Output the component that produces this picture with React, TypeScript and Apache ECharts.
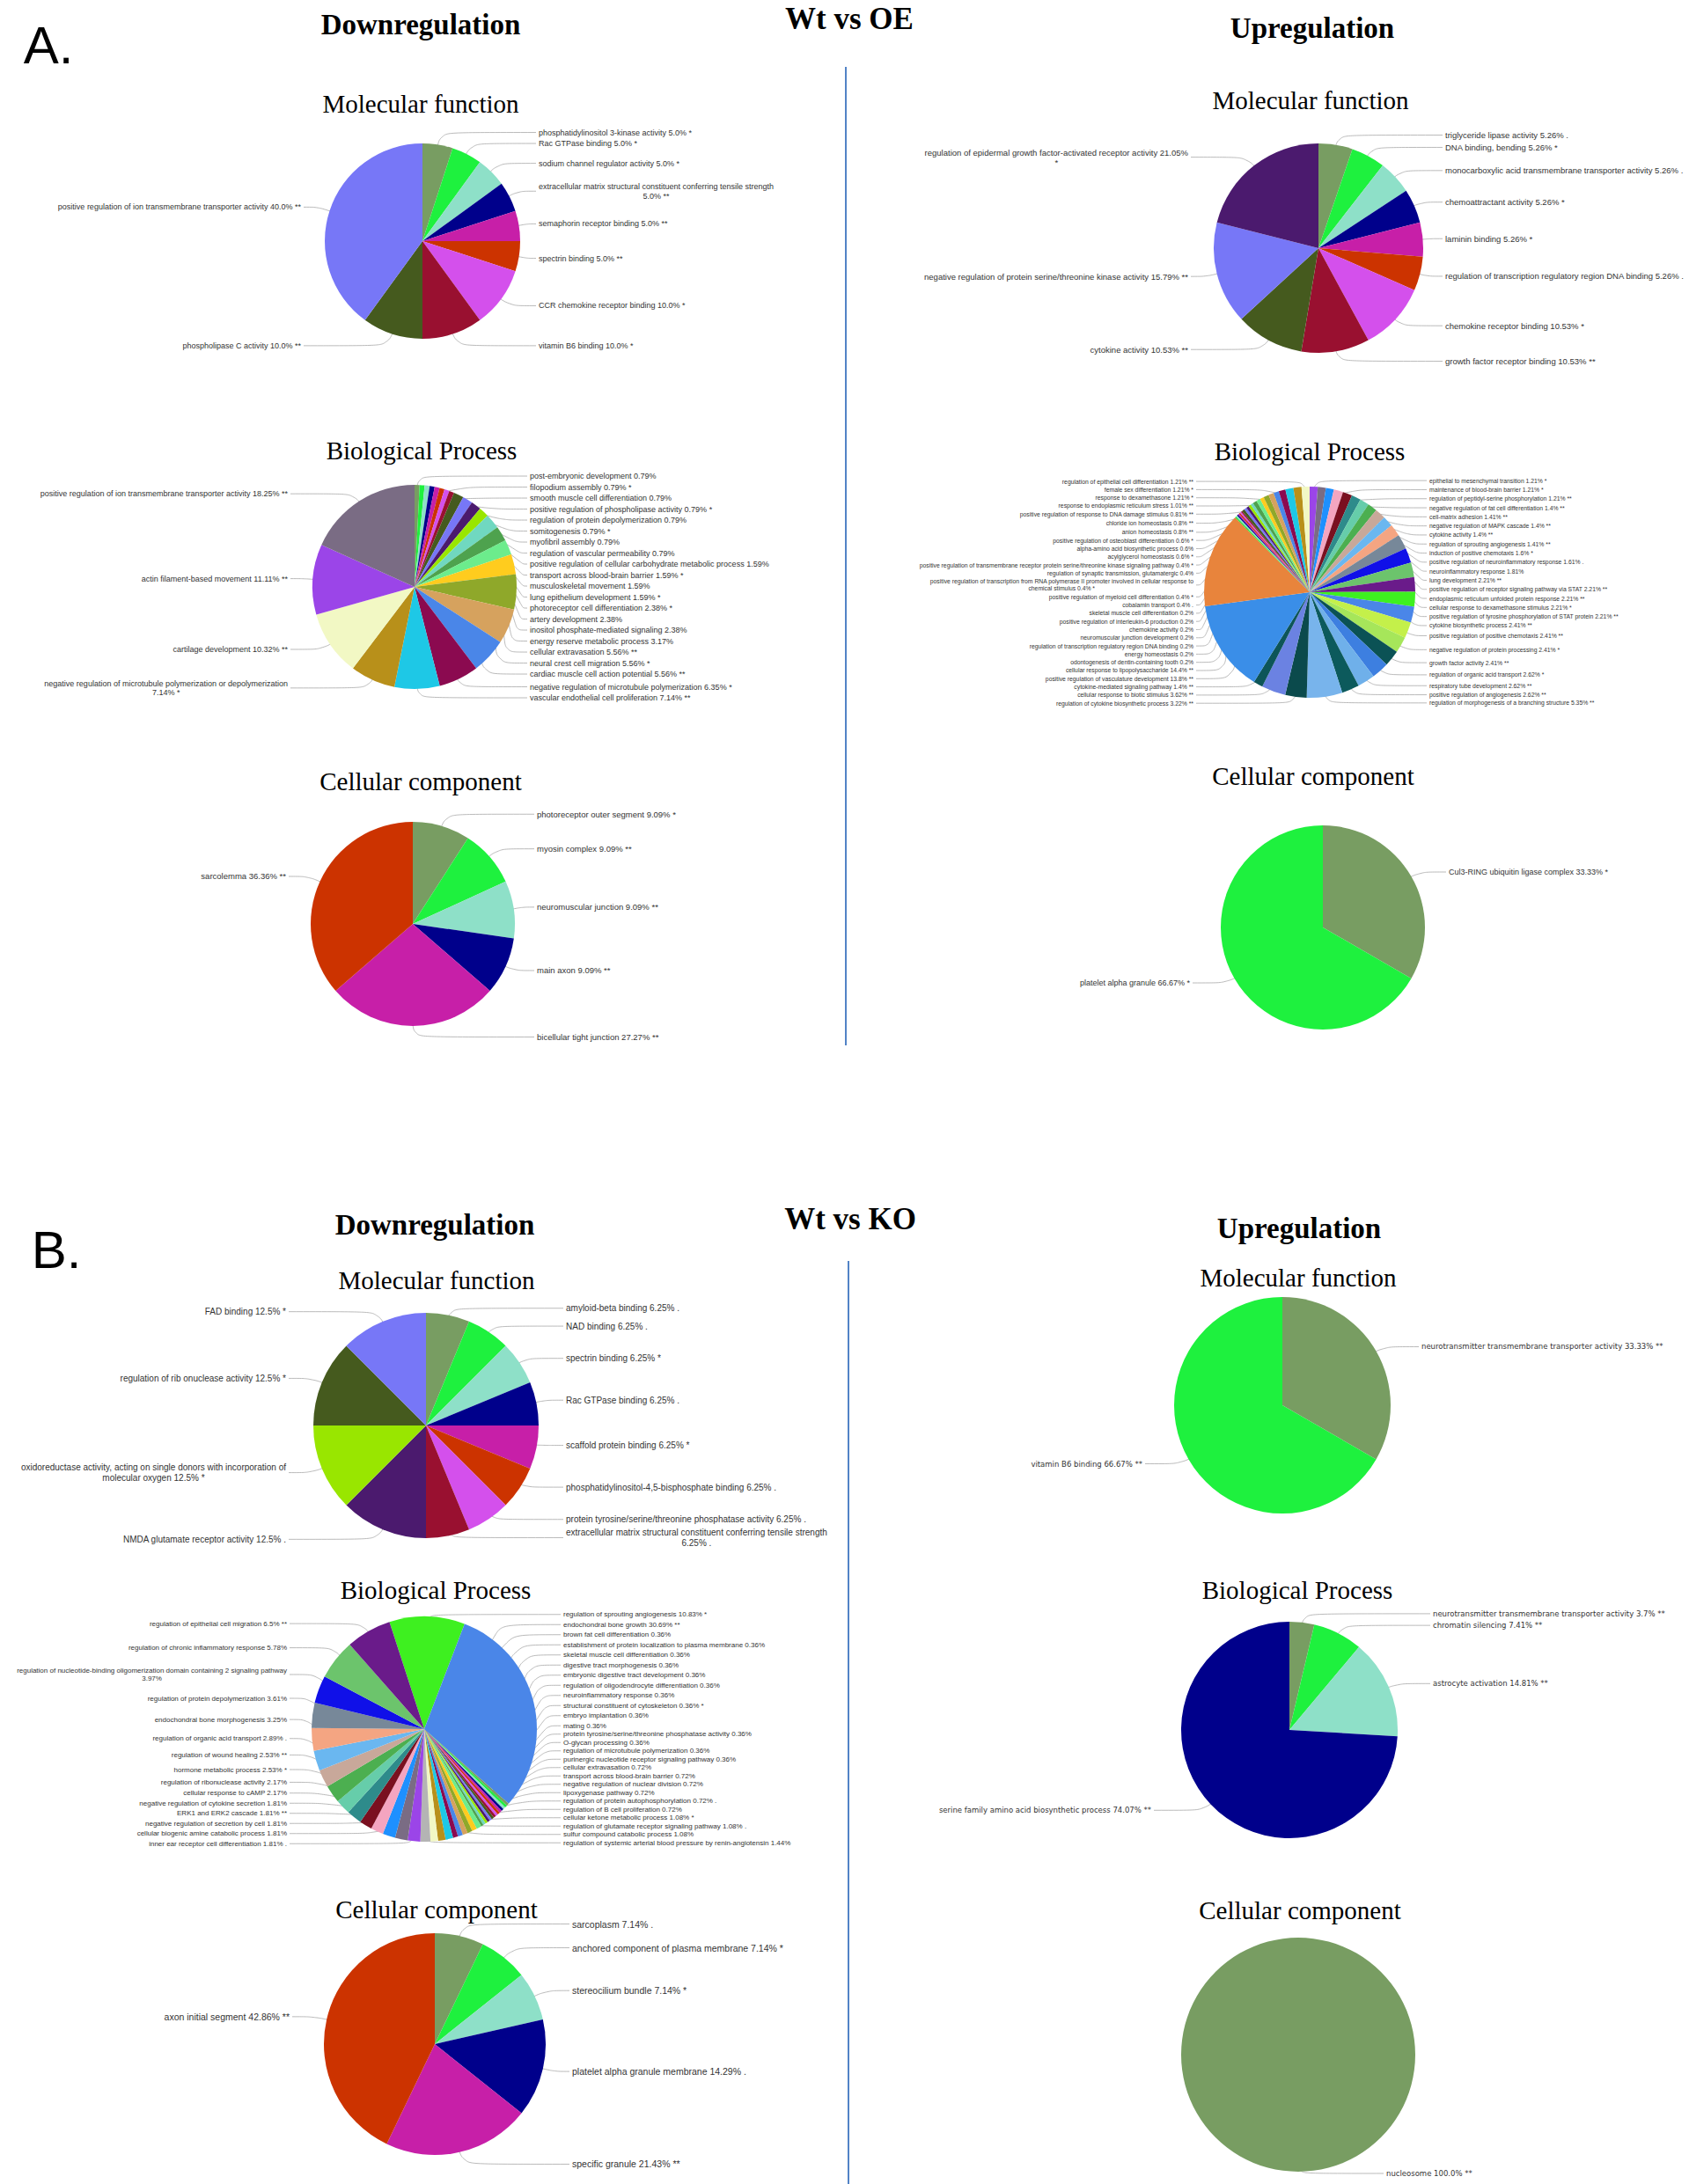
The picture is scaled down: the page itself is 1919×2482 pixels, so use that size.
import React, { useEffect, useRef } from 'react';
import * as echarts from 'echarts';

const PAGE_W = 1919;
const PAGE_H = 2482;

const PALETTE = [
  '#789d62', '#1ef13e', '#8ee0c8', '#00008b', '#c71fa8', '#cc3300', '#d450ec', '#991030',
  '#455a1e', '#7777f7', '#4b1a6e', '#99e600', '#70d8c0', '#4ea24e', '#6cec8c', '#ffcc1e',
  '#8fa82a', '#d6a25e', '#4a86e8', '#8b0a50', '#1ec8e6', '#b8901a', '#f2f8c4', '#9b45e8',
  '#7a6c84', '#1e90ff', '#f4a5c0', '#7a1020', '#2e8b8b', '#66cdaa', '#4caf50', '#c8a89a',
  '#6ab7f0', '#f4a582', '#778899', '#1010e8', '#6cc46c', '#6a1b8a', '#3ef020', '#4a86e8',
];
const EXTRA_BP = ['#c4f04a', '#a6e65a', '#0b5255', '#3d7fe0', '#6fb0ea', '#0c5a5c', '#78b4ec', '#0b4a4c', '#6b82e2', '#0d5558', '#3a8ee8', '#e8843c'];
const col = (ids: number[]) => ids.map((i) => PALETTE[i]);

// ---------------- A. Wt vs OE — Downregulation ----------------
const A_DOWN_MF_NAMES = [
  'phosphatidylinositol 3-kinase activity', 'Rac GTPase binding', 'sodium channel regulator activity',
  'extracellular matrix structural constituent conferring tensile strength\n', 'semaphorin receptor binding',
  'spectrin binding', 'CCR chemokine receptor binding', 'vitamin B6 binding', 'phospholipase C activity',
  'positive regulation of ion transmembrane transporter activity',
];
const A_DOWN_MF_VALUES = [5, 5, 5, 5, 5, 5, 10, 10, 10, 40];
const A_DOWN_MF_MARKS = ['*', '*', '*', '**', '**', '**', '*', '*', '**', '**'];
const A_DOWN_MF_COLORS = col([0, 1, 2, 3, 4, 5, 6, 7, 8, 9]);

const A_DOWN_BP_NAMES = [
  'post-embryonic development', 'filopodium assembly', 'smooth muscle cell differentiation',
  'positive regulation of phospholipase activity', 'regulation of protein depolymerization', 'somitogenesis',
  'myofibril assembly', 'regulation of vascular permeability',
  'positive regulation of cellular carbohydrate metabolic process', 'transport across blood-brain barrier',
  'musculoskeletal movement', 'lung epithelium development', 'photoreceptor cell differentiation',
  'artery development', 'inositol phosphate-mediated signaling', 'energy reserve metabolic process',
  'cellular extravasation', 'neural crest cell migration', 'cardiac muscle cell action potential',
  'negative regulation of microtubule polymerization', 'vascular endothelial cell proliferation',
  'negative regulation of microtubule polymerization or depolymerization\n', 'cartilage development',
  'actin filament-based movement', 'positive regulation of ion transmembrane transporter activity',
];
const A_DOWN_BP_VALUES = [0.79, 0.79, 0.79, 0.79, 0.79, 0.79, 0.79, 0.79, 1.59, 1.59, 1.59, 1.59, 2.38, 2.38, 2.38, 3.17, 5.56, 5.56, 5.56, 6.35, 7.14, 7.14, 10.32, 11.11, 18.25];
const A_DOWN_BP_MARKS = ['', '*', '', '*', '', '*', '', '', '', '*', '', '*', '*', '', '', '', '**', '*', '**', '*', '**', '*', '**', '**', '**'];
const A_DOWN_BP_COLORS = col([0, 1, 2, 3, 4, 5, 6, 7, 8, 9, 10, 11, 12, 13, 14, 15, 16, 17, 18, 19, 20, 21, 22, 23, 24]);

const A_DOWN_CC_NAMES = ['photoreceptor outer segment', 'myosin complex', 'neuromuscular junction', 'main axon', 'bicellular tight junction', 'sarcolemma'];
const A_DOWN_CC_VALUES = [9.09, 9.09, 9.09, 9.09, 27.27, 36.36];
const A_DOWN_CC_MARKS = ['*', '**', '**', '**', '**', '**'];
const A_DOWN_CC_COLORS = col([0, 1, 2, 3, 4, 5]);

// ---------------- A. Wt vs OE — Upregulation ----------------
const A_UP_MF_NAMES = [
  'triglyceride lipase activity', 'DNA binding, bending', 'monocarboxylic acid transmembrane transporter activity',
  'chemoattractant activity', 'laminin binding', 'regulation of transcription regulatory region DNA binding',
  'chemokine receptor binding', 'growth factor receptor binding', 'cytokine activity',
  'negative regulation of protein serine/threonine kinase activity',
  'regulation of epidermal growth factor-activated receptor activity',
];
const A_UP_MF_VALUES = [5.26, 5.26, 5.26, 5.26, 5.26, 5.26, 10.53, 10.53, 10.53, 15.79, 21.05];
const A_UP_MF_MARKS = ['.', '*', '.', '*', '*', '.', '*', '**', '**', '**', '\n*'];
const A_UP_MF_COLORS = col([0, 1, 2, 3, 4, 5, 6, 7, 8, 9, 10]);

const A_UP_BP_NAMES = [
  'epithelial to mesenchymal transition', 'maintenance of blood-brain barrier',
  'regulation of peptidyl-serine phosphorylation', 'negative regulation of fat cell differentiation',
  'cell-matrix adhesion', 'negative regulation of MAPK cascade', 'cytokine activity',
  'regulation of sprouting angiogenesis', 'induction of positive chemotaxis',
  'positive regulation of neuroinflammatory response', 'neuroinflammatory response', 'lung development',
  'positive regulation of receptor signaling pathway via STAT', 'endoplasmic reticulum unfolded protein response',
  'cellular response to dexamethasone stimulus', 'positive regulation of tyrosine phosphorylation of STAT protein',
  'cytokine biosynthetic process', 'positive regulation of positive chemotaxis',
  'negative regulation of protein processing', 'growth factor activity', 'regulation of organic acid transport',
  'respiratory tube development', 'positive regulation of angiogenesis',
  'regulation of morphogenesis of a branching structure', 'regulation of cytokine biosynthetic process',
  'cellular response to biotic stimulus', 'cytokine-mediated signaling pathway',
  'positive regulation of vasculature development', 'cellular response to lipopolysaccharide',
  'odontogenesis of dentin-containing tooth', 'energy homeostasis',
  'regulation of transcription regulatory region DNA binding', 'neuromuscular junction development',
  'chemokine activity', 'positive regulation of interleukin-6 production', 'skeletal muscle cell differentiation',
  'positive regulation of transcription from RNA polymerase II promoter involved in cellular response to\nchemical stimulus',
  'cobalamin transport', 'positive regulation of myeloid cell differentiation',
  'regulation of synaptic transmission, glutamatergic',
  'positive regulation of transmembrane receptor protein serine/threonine kinase signaling pathway',
  'acylglycerol homeostasis', 'alpha-amino acid biosynthetic process',
  'positive regulation of osteoblast differentiation', 'anion homeostasis', 'chloride ion homeostasis',
  'positive regulation of response to DNA damage stimulus', 'response to endoplasmic reticulum stress',
  'response to dexamethasone', 'female sex differentiation', 'regulation of epithelial cell differentiation',
];
const A_UP_BP_VALUES = [
  1.21, 1.21, 1.21, 1.4, 1.41, 1.4, 1.4, 1.41, 1.6, 1.61, 1.81, 2.21, 2.21, 2.21, 2.21, 2.21, 2.41, 2.41, 2.41, 2.41,
  2.62, 2.62, 2.62, 5.35, 3.22, 3.62, 1.4, 13.8, 14.4,
  0.2, 0.2, 0.2, 0.2, 0.2, 0.2, 0.2, 0.4, 0.4, 0.4, 0.4, 0.4, 0.6, 0.6, 0.6, 0.8, 0.8, 0.81, 1.01, 1.21, 1.21, 1.21,
];
const A_UP_BP_MARKS = [
  '*', '*', '**', '**', '**', '**', '**', '**', '*', '.', '', '**', '**', '**', '*', '**', '**', '**', '*', '**',
  '*', '**', '**', '**', '**', '**', '**', '**', '**',
  '', '', '', '', '', '', '', '*', '.', '*', '', '*', '*', '', '*', '**', '**', '**', '**', '*', '*', '**',
];
const A_UP_BP_COLORS = [
  ...col([23, 24, 25, 26, 27, 28, 29, 30, 31, 32, 33, 34, 35, 36, 37, 38, 39]),
  ...EXTRA_BP,
  ...col([1, 2, 3, 4, 5, 6, 7, 8, 9, 10, 11, 12, 13, 14, 15, 16, 17, 18, 19, 20, 21, 22]),
];

const A_UP_CC_NAMES = ['Cul3-RING ubiquitin ligase complex', 'platelet alpha granule'];
const A_UP_CC_VALUES = [33.33, 66.67];
const A_UP_CC_MARKS = ['*', '*'];
const A_UP_CC_COLORS = col([0, 1]);

// ---------------- B. Wt vs KO — Downregulation ----------------
const B_DOWN_MF_NAMES = [
  'amyloid-beta binding', 'NAD binding', 'spectrin binding', 'Rac GTPase binding', 'scaffold protein binding',
  'phosphatidylinositol-4,5-bisphosphate binding', 'protein tyrosine/serine/threonine phosphatase activity',
  'extracellular matrix structural constituent conferring tensile strength\n', 'NMDA glutamate receptor activity',
  'oxidoreductase activity, acting on single donors with incorporation of\nmolecular oxygen',
  'regulation of rib onuclease activity', 'FAD binding',
];
const B_DOWN_MF_VALUES = [6.25, 6.25, 6.25, 6.25, 6.25, 6.25, 6.25, 6.25, 12.5, 12.5, 12.5, 12.5];
const B_DOWN_MF_MARKS = ['.', '.', '*', '.', '*', '.', '.', '.', '.', '*', '*', '*'];
const B_DOWN_MF_COLORS = col([0, 1, 2, 3, 4, 5, 6, 7, 10, 11, 8, 9]);

const B_DOWN_BP_NAMES = [
  'regulation of sprouting angiogenesis', 'endochondral bone growth', 'brown fat cell differentiation',
  'establishment of protein localization to plasma membrane', 'skeletal muscle cell differentiation',
  'digestive tract morphogenesis', 'embryonic digestive tract development',
  'regulation of oligodendrocyte differentiation', 'neuroinflammatory response',
  'structural constituent of cytoskeleton', 'embryo implantation', 'mating',
  'protein tyrosine/serine/threonine phosphatase activity', 'O-glycan processing',
  'regulation of microtubule polymerization', 'purinergic nucleotide receptor signaling pathway',
  'cellular extravasation', 'transport across blood-brain barrier', 'negative regulation of nuclear division',
  'lipoxygenase pathway', 'regulation of protein autophosphorylation', 'regulation of B cell proliferation',
  'cellular ketone metabolic process', 'regulation of glutamate receptor signaling pathway',
  'sulfur compound catabolic process', 'regulation of systemic arterial blood pressure by renin-angiotensin',
  'inner ear receptor cell differentiation', 'cellular biogenic amine catabolic process',
  'negative regulation of secretion by cell', 'ERK1 and ERK2 cascade', 'negative regulation of cytokine secretion',
  'cellular response to cAMP', 'regulation of ribonuclease activity', 'hormone metabolic process',
  'regulation of wound healing', 'regulation of organic acid transport', 'endochondral bone morphogenesis',
  'regulation of protein depolymerization',
  'regulation of nucleotide-binding oligomerization domain containing 2 signaling pathway\n',
  'regulation of chronic inflammatory response', 'regulation of epithelial cell migration',
];
const B_DOWN_BP_VALUES = [
  10.83, 30.69, 0.36, 0.36, 0.36, 0.36, 0.36, 0.36, 0.36, 0.36, 0.36, 0.36, 0.36, 0.36, 0.36, 0.36,
  0.72, 0.72, 0.72, 0.72, 0.72, 0.72, 1.08, 1.08, 1.08, 1.44,
  1.81, 1.81, 1.81, 1.81, 1.81, 2.17, 2.17, 2.53, 2.53, 2.89, 3.25, 3.61, 3.97, 5.78, 6.5,
];
const B_DOWN_BP_MARKS = [
  '*', '**', '', '', '', '', '', '', '', '*', '', '', '', '', '', '',
  '', '', '', '', '.', '', '*', '.', '', '',
  '.', '', '', '**', '', '', '', '*', '**', '.', '', '', '', '', '**',
];
const B_DOWN_BP_COLORS = [
  ...col([38, 39]),
  ...col([0, 1, 2, 3, 4, 5, 6, 7, 8, 9, 10, 11, 12, 13, 14, 15, 16, 17, 18, 19, 20, 21, 22]),
  '#b4b4b4',
  ...col([23, 24, 25, 26, 27, 28, 29, 30, 31, 32, 33, 34, 35, 36, 37]),
];

const B_DOWN_CC_NAMES = ['sarcoplasm', 'anchored component of plasma membrane', 'stereocilium bundle', 'platelet alpha granule membrane', 'specific granule', 'axon initial segment'];
const B_DOWN_CC_VALUES = [7.14, 7.14, 7.14, 14.29, 21.43, 42.86];
const B_DOWN_CC_MARKS = ['.', '*', '*', '.', '**', '**'];
const B_DOWN_CC_COLORS = col([0, 1, 2, 3, 4, 5]);

// ---------------- B. Wt vs KO — Upregulation ----------------
const B_UP_MF_NAMES = ['neurotransmitter transmembrane transporter activity', 'vitamin B6 binding'];
const B_UP_MF_VALUES = [33.33, 66.67];
const B_UP_MF_MARKS = ['**', '**'];
const B_UP_MF_COLORS = col([0, 1]);

const B_UP_BP_NAMES = ['neurotransmitter transmembrane transporter activity', 'chromatin silencing', 'astrocyte activation', 'serine family amino acid biosynthetic process'];
const B_UP_BP_VALUES = [3.7, 7.41, 14.81, 74.07];
const B_UP_BP_MARKS = ['**', '**', '**', '**'];
const B_UP_BP_COLORS = col([0, 1, 2, 3]);

const B_UP_CC_NAMES = ['nucleosome'];
const B_UP_CC_VALUES = [100];
const B_UP_CC_MARKS = ['**'];
const B_UP_CC_COLORS = col([0]);

// ---------------- layout / styling ----------------
const NARROW = "'Liberation Sans Narrow', 'Arial Narrow', 'Liberation Sans', Arial, sans-serif";
const SANS = "'Liberation Sans', Arial, sans-serif";
const WIDE = "'DejaVu Sans', Verdana, sans-serif";
const SERIF = "'Liberation Serif', 'Times New Roman', serif";

type PieCfg = {
  names: string[]; values: number[]; marks: string[]; colors: string[]; fixed?: number;
  cx: number; cy: number; r: number; hw: number; hh: number; len: number; len2: number;
  colR: number; colL: number; side?: 'right' | 'left';
  font: number; family: string; start?: number;
};

const PIES: PieCfg[] = [
  { names: A_DOWN_MF_NAMES, values: A_DOWN_MF_VALUES, marks: A_DOWN_MF_MARKS, colors: A_DOWN_MF_COLORS, fixed: 1,
    cx: 480, cy: 274, r: 111, hw: 470, hh: 135, len: 14, len2: 6, colR: 612, colL: 342, font: 9, family: NARROW },
  { names: A_DOWN_BP_NAMES, values: A_DOWN_BP_VALUES, marks: A_DOWN_BP_MARKS, colors: A_DOWN_BP_COLORS,
    cx: 471, cy: 667, r: 116, hw: 460, hh: 136, len: 10, len2: 4, colR: 602, colL: 327, font: 9, family: NARROW },
  { names: A_DOWN_CC_NAMES, values: A_DOWN_CC_VALUES, marks: A_DOWN_CC_MARKS, colors: A_DOWN_CC_COLORS,
    cx: 469, cy: 1050, r: 116, hw: 460, hh: 135, len: 14, len2: 6, colR: 610, colL: 325, font: 9.5, family: NARROW },
  { names: A_UP_MF_NAMES, values: A_UP_MF_VALUES, marks: A_UP_MF_MARKS, colors: A_UP_MF_COLORS,
    cx: 1498, cy: 282, r: 119, hw: 480, hh: 135, len: 12, len2: 6, colR: 1642, colL: 1350, font: 9.5, family: NARROW },
  { names: A_UP_BP_NAMES, values: A_UP_BP_VALUES, marks: A_UP_BP_MARKS, colors: A_UP_BP_COLORS,
    cx: 1488, cy: 673, r: 120, hw: 500, hh: 132, len: 10, len2: 4, colR: 1624, colL: 1356, font: 6.8, family: NARROW },
  { names: A_UP_CC_NAMES, values: A_UP_CC_VALUES, marks: A_UP_CC_MARKS, colors: A_UP_CC_COLORS,
    cx: 1503, cy: 1054, r: 116, hw: 440, hh: 135, len: 10, len2: 28, colR: 1646, colL: 1352, font: 9, family: NARROW },
  { names: B_DOWN_MF_NAMES, values: B_DOWN_MF_VALUES, marks: B_DOWN_MF_MARKS, colors: B_DOWN_MF_COLORS,
    cx: 484, cy: 1620, r: 128, hw: 484, hh: 140, len: 12, len2: 16, colR: 643, colL: 325, font: 10, family: NARROW },
  { names: B_DOWN_BP_NAMES, values: B_DOWN_BP_VALUES, marks: B_DOWN_BP_MARKS, colors: B_DOWN_BP_COLORS,
    cx: 482, cy: 1965, r: 128, hw: 478, hh: 136, len: 10, len2: 6, colR: 640, colL: 326, font: 8, family: SANS, start: 108 },
  { names: B_DOWN_CC_NAMES, values: B_DOWN_CC_VALUES, marks: B_DOWN_CC_MARKS, colors: B_DOWN_CC_COLORS,
    cx: 494, cy: 2323, r: 126, hw: 480, hh: 150, len: 14, len2: 10, colR: 650, colL: 329, font: 10.5, family: NARROW },
  { names: B_UP_MF_NAMES, values: B_UP_MF_VALUES, marks: B_UP_MF_MARKS, colors: B_UP_MF_COLORS,
    cx: 1457, cy: 1597, r: 123, hw: 460, hh: 140, len: 10, len2: 38, colR: 1615, colL: 1298, font: 8.5, family: WIDE },
  { names: B_UP_BP_NAMES, values: B_UP_BP_VALUES, marks: B_UP_BP_MARKS, colors: B_UP_BP_COLORS,
    cx: 1465, cy: 1966, r: 123, hw: 460, hh: 140, len: 10, len2: 42, colR: 1628, colL: 1308, font: 8.5, family: WIDE },
  { names: B_UP_CC_NAMES, values: B_UP_CC_VALUES, marks: B_UP_CC_MARKS, colors: B_UP_CC_COLORS, fixed: 1,
    cx: 1475, cy: 2335, r: 133, hw: 440, hh: 145, len: 2, len2: 95, colR: 1575, colL: 1300, side: 'right', font: 8.5, family: WIDE },
];

const HEADINGS = [
  { text: 'A.', x: 55, y: 51, size: 60, family: SANS, weight: 'normal' },
  { text: 'Downregulation', x: 478, y: 28, size: 33, family: SERIF, weight: 'bold' },
  { text: 'Wt vs OE', x: 965, y: 21, size: 35, family: SERIF, weight: 'bold' },
  { text: 'Upregulation', x: 1491, y: 32, size: 33, family: SERIF, weight: 'bold' },
  { text: 'Molecular function', x: 478, y: 118, size: 29, family: SERIF, weight: 'normal' },
  { text: 'Biological Process', x: 479, y: 512, size: 29, family: SERIF, weight: 'normal' },
  { text: 'Cellular component', x: 478, y: 888, size: 29, family: SERIF, weight: 'normal' },
  { text: 'Molecular function', x: 1489, y: 114, size: 29, family: SERIF, weight: 'normal' },
  { text: 'Biological Process', x: 1488, y: 513, size: 29, family: SERIF, weight: 'normal' },
  { text: 'Cellular component', x: 1492, y: 882, size: 29, family: SERIF, weight: 'normal' },
  { text: 'B.', x: 64, y: 1420, size: 60, family: SANS, weight: 'normal' },
  { text: 'Downregulation', x: 494, y: 1392, size: 33, family: SERIF, weight: 'bold' },
  { text: 'Wt vs KO', x: 966, y: 1385, size: 35, family: SERIF, weight: 'bold' },
  { text: 'Upregulation', x: 1476, y: 1396, size: 33, family: SERIF, weight: 'bold' },
  { text: 'Molecular function', x: 496, y: 1455, size: 29, family: SERIF, weight: 'normal' },
  { text: 'Biological Process', x: 495, y: 1807, size: 29, family: SERIF, weight: 'normal' },
  { text: 'Cellular component', x: 496, y: 2170, size: 29, family: SERIF, weight: 'normal' },
  { text: 'Molecular function', x: 1475, y: 1452, size: 29, family: SERIF, weight: 'normal' },
  { text: 'Biological Process', x: 1474, y: 1807, size: 29, family: SERIF, weight: 'normal' },
  { text: 'Cellular component', x: 1477, y: 2171, size: 29, family: SERIF, weight: 'normal' },
];

const DIVIDERS = [
  { x: 961, y1: 76, y2: 1188 },
  { x: 964, y1: 1433, y2: 2482 },
];

function labelText(name: string, value: number, mark: string, fixed?: number) {
  const v = fixed != null ? value.toFixed(fixed) : String(value);
  const s = `${name} ${v}%` + (mark ? ` ${mark}` : '');
  return s.replace(/ ?\n ?/g, '\n');
}

function makePie(cfg: PieCfg) {
  const data = cfg.names.map((n, i) => ({
    name: labelText(n, cfg.values[i], cfg.marks[i], cfg.fixed),
    value: cfg.values[i],
    itemStyle: { color: cfg.colors[i] },
  }));
  const textStyle = { fontSize: cfg.font, fontFamily: cfg.family, color: '#333', lineHeight: cfg.font + 1.5 };
  return {
    type: 'pie',
    left: cfg.cx - cfg.hw,
    top: cfg.cy - cfg.hh,
    width: cfg.hw * 2,
    height: cfg.hh * 2,
    center: ['50%', '50%'],
    radius: [0, cfg.r],
    startAngle: cfg.start ?? 90,
    clockwise: true,
    silent: true,
    avoidLabelOverlap: true,
    itemStyle: { borderWidth: 0 },
    emphasis: { disabled: true },
    label: {
      show: true,
      position: 'outside',
      distanceToLabelLine: 4,
      overflow: 'none',
      ...textStyle,
      formatter: (p: any) => {
        const parts = String(p.name).split('\n');
        if (parts.length < 2) return parts[0];
        return `{a|${parts[0]}}\n{b|${parts[1]}}`;
      },
      rich: {
        a: { ...textStyle },
        b: { ...textStyle, align: 'center' },
      },
    },
    labelLine: {
      show: true,
      length: cfg.len,
      length2: cfg.len2,
      smooth: 0.3,
      lineStyle: { color: '#a8a8a8', width: 0.8 },
    },
    // put the texts in the two label columns of the original figure
    labelLayout: (params: any) => {
      const pts = params.labelLinePoints;
      if (!pts || pts.length < 3) return {};
      const right = cfg.side ? cfg.side === 'right' : pts[2][0] >= cfg.cx;
      const x = right ? cfg.colR : cfg.colL;
      const y = pts[2][1];
      const k = 0.86;
      const p0 = [cfg.cx + (pts[0][0] - cfg.cx) * k, cfg.cy + (pts[0][1] - cfg.cy) * k];
      let ex = pts[1][0];
      if (right && ex > x - 8) ex = x - 8;
      if (!right && ex < x + 8) ex = x + 8;
      const p1 = [ex, y];
      const p2 = [right ? x - 3 : x + 3, y];
      return { x, y, align: right ? 'left' : 'right', verticalAlign: 'middle', labelLinePoints: [p0, p1, p2] };
    },
    data,
  };
}

function buildOption() {
  const graphics: any[] = [];
  HEADINGS.forEach((h) => {
    graphics.push({
      type: 'text',
      x: h.x,
      y: h.y,
      silent: true,
      style: {
        text: h.text,
        fill: '#000',
        fontSize: h.size,
        fontFamily: h.family,
        fontWeight: h.weight,
        align: 'center',
        verticalAlign: 'middle',
        textAlign: 'center',
        textVerticalAlign: 'middle',
      },
    });
  });
  DIVIDERS.forEach((d) => {
    graphics.push({
      type: 'line',
      silent: true,
      shape: { x1: d.x, y1: d.y1, x2: d.x, y2: d.y2 },
      style: { stroke: '#5283c6', lineWidth: 2 },
    });
  });
  return {
    animation: false,
    backgroundColor: '#ffffff',
    series: PIES.map(makePie),
    graphic: graphics,
  };
}

export default function App() {
  const ref = useRef<HTMLDivElement>(null);
  useEffect(() => {
    if (!ref.current) return;
    const chart = echarts.init(ref.current, null, { renderer: 'svg', width: PAGE_W, height: PAGE_H });
    chart.setOption(buildOption() as any);
    return () => chart.dispose();
  }, []);
  return (
    <div
      ref={ref}
      style={{ position: 'absolute', left: 0, top: 0, width: PAGE_W, height: PAGE_H, background: '#fff' }}
    />
  );
}
